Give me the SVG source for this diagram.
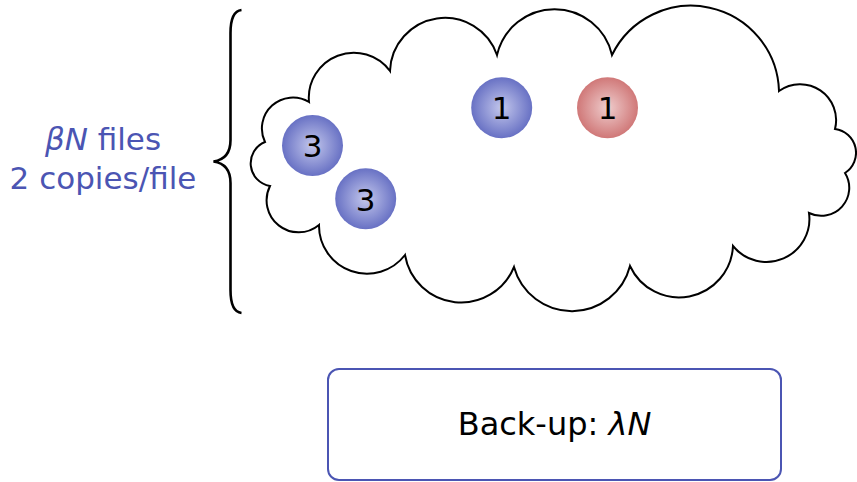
<svg xmlns="http://www.w3.org/2000/svg" width="857" height="482" viewBox="0 0 857 482">
<defs>
<radialGradient id="gBlue" cx="50%" cy="50%" r="50%">
<stop offset="0" stop-color="#c3c7ec"/>
<stop offset="1" stop-color="#6871c4"/>
</radialGradient>
<radialGradient id="gRed" cx="50%" cy="50%" r="50%">
<stop offset="0" stop-color="#efcdcd"/>
<stop offset="1" stop-color="#d07878"/>
</radialGradient>
</defs>
<style>
.ln{fill:none;stroke:#000;stroke-width:2;stroke-linejoin:miter}
.lbl{font-family:"DejaVu Sans",sans-serif;font-size:31px;fill:#000;text-anchor:middle}
.blue{fill:#4b55b3}
.it{font-style:italic}
</style>
<rect width="857" height="482" fill="#fff"/>
<g id="cloud">
<path class="ln" d="M 309 102 A 45 45 0 0 1 390 71 A 55 55 0 0 1 497 55 A 59 59 0 0 1 612 55 A 88 88 0 0 1 779 91 A 36 36 0 0 1 835 129 A 24 24 0 0 1 845 173 A 28 28 0 0 1 809 213 A 43 43 0 0 1 733 246 A 54 54 0 0 1 630 266 A 60 60 0 0 1 514 267 A 57 57 0 0 1 405 255 A 48 48 0 0 1 319 225 A 32 32 0 0 1 270 186 A 23 23 0 0 1 265 142 A 31 31 0 0 1 309 102 Z"/>
</g>
<g id="brace">
<path class="ln" style="stroke-width:2.6" d="M 241.5 10 C 233 11 230.5 20 230.5 33 L 230.5 140 C 230.5 153 224 160 213.5 161.5 C 224 163 230.5 170 230.5 183 L 230.5 290 C 230.5 303 233 312 241.5 313"/>
</g>
<g id="label-files">
<text class="lbl blue" x="103" y="150"><tspan class="it">βN</tspan> files</text>
<text class="lbl blue" x="103" y="189">2 copies/file</text>
</g>
<g id="ball-3a">
<circle cx="312.5" cy="145.5" r="30.5" fill="url(#gBlue)"/>
<text class="lbl" x="312.5" y="157.3">3</text>
</g>
<g id="ball-3b">
<circle cx="365.7" cy="198.7" r="30.5" fill="url(#gBlue)"/>
<text class="lbl" x="365.7" y="210.5">3</text>
</g>
<g id="ball-1a">
<circle cx="501.7" cy="107.7" r="30.5" fill="url(#gBlue)"/>
<text class="lbl" x="501.7" y="119.4">1</text>
</g>
<g id="ball-1b">
<circle cx="607.5" cy="107.7" r="30.5" fill="url(#gRed)"/>
<text class="lbl" x="607.5" y="119.4">1</text>
</g>
<g id="backup">
<rect x="328" y="369" width="453" height="111" rx="11" ry="11" fill="#fff" stroke="#4b55b3" stroke-width="2"/>
<text class="lbl" x="554.5" y="435" style="font-size:32px">Back-up: <tspan class="it">λN</tspan></text>
</g>
</svg>
